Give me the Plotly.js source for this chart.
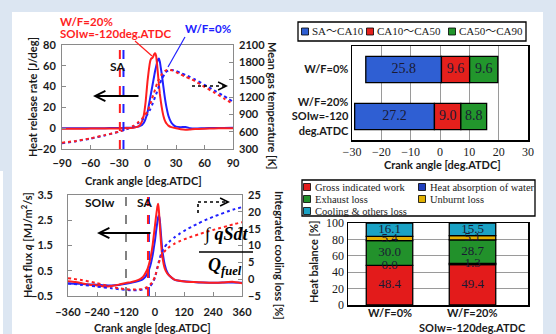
<!DOCTYPE html>
<html><head><meta charset="utf-8">
<script src="https://cdn.plot.ly/plotly-3.0.1.min.js"></script>
<style>html,body{margin:0;padding:0;background:#dce6f2;overflow:hidden}</style>
</head><body><div id="chart" style="width:556px;height:334px"></div>
<script>
// ---------- DATA ----------
// Top-left: heat release rate [J/deg] and mean gas temperature [K]
const caHRR = [-90,-80,-70,-60,-50,-40,-30,-25,-20,-15,-10,-8,-6,-4,-2,-1,0,1,2,3,4,5,6,7,8,9,10,11,12,13,14,15,16,17,18,19,20,22,25,28,30,35,40,45,50,60,70,80,90];
const hrrWF20 = [-0.5,-0.5,-0.5,-0.4,-0.4,-0.3,-0.2,0,0.2,0.5,1.5,3,6,12,25,35,45,53,60,65,67,67.5,69,71,72,70,62,52,42,33,26,20,15,11,8,6,4.5,2.5,1,0.3,0,-1,-1.5,-1.2,-0.8,-0.5,-0.3,0,0];
const hrrWF0  = [0,0,0,0,0,0.1,0.2,0.3,0.4,0.7,1.5,2.2,3,5,9,12,15,20,25,30,35,40,45,50,55,59,63,66,67,64,58,52,45,38,31,25,20,12,5.5,2.5,1.5,1,1.2,0,-0.3,0,0.2,0.3,0.5];
const caTemp = [-90,-75,-60,-45,-30,-20,-15,-10,-5,0,3,5,8,10,12,15,18,20,23,26,30,35,40,45,50,60,70,80,90];
const tempWF20 = [410,440,485,540,600,660,700,760,840,950,1080,1180,1330,1430,1510,1590,1645,1665,1670,1660,1630,1590,1550,1515,1475,1375,1280,1180,1080];
const tempWF0  = [400,435,480,535,600,655,690,745,815,900,990,1070,1200,1290,1390,1510,1600,1640,1665,1668,1650,1615,1580,1545,1505,1410,1315,1220,1120];

// Combustion phases [deg]
const cases = ['W/F=0%', 'W/F=20%'];
const caseTicksH = ['W/F=0%', 'W/F=20%<br>SOIw=-120<br>deg.ATDC'];
const caseTicksV = ['W/F=0%', 'W/F=20%<br>SOIw=-120deg.ATDC'];
const saTiming = [-25.3, -29.1];          // spark timing [deg.ATDC]
const phaseNames = ['SA～CA10', 'CA10～CA50', 'CA50～CA90'];
const saToCa10 = [25.8, 27.2];
const ca10ToCa50 = [9.6, 9.0];
const ca50ToCa90 = [9.6, 8.8];

// Bottom-left: heat flux and integrated cooling loss
const soiw = -120;
const caQ = [-360,-330,-300,-270,-240,-210,-180,-150,-120,-100,-80,-60,-50,-40,-30,-20,-10,-5,0,5,10,13,16,20,25,30,40,50,60,80,100,130,160,200,240,280,320,360];
const qWF20 = [0.08,0.05,0.0,-0.05,-0.08,-0.12,-0.1,-0.05,0.02,0.05,0.1,0.18,0.25,0.4,0.6,0.95,1.5,1.9,2.3,2.7,3.05,3.15,2.9,2.3,1.6,1.1,0.6,0.4,0.3,0.15,0.1,0.06,0.05,0.03,0.02,0.03,0.06,0.0];
const qWF0  = [0.0,-0.01,-0.02,-0.04,-0.05,-0.07,-0.08,-0.06,-0.02,0.02,0.06,0.12,0.17,0.26,0.42,0.68,1.1,1.4,1.7,2.1,2.45,2.62,2.7,2.5,1.9,1.35,0.75,0.45,0.3,0.15,0.1,0.07,0.05,0.03,0.02,0.03,0.03,0.02];
const caCool = [-360,-300,-240,-180,-150,-120,-90,-60,-40,-20,-10,0,5,10,15,20,25,30,40,50,60,80,100,120,150,180,210,240,270,300,330,360];
const coolWF20 = [0.3,-0.3,-1.2,-2.2,-2.7,-3.0,-3.1,-3.0,-2.6,-1.6,-0.8,0.8,2.0,3.3,4.6,5.7,6.6,7.3,8.3,9.0,9.6,10.5,11.2,11.8,12.6,13.3,14.0,14.6,15.2,15.8,16.4,16.9];
const coolWF0  = [-1.3,-1.7,-2.2,-2.7,-3.0,-3.2,-3.3,-3.2,-2.9,-2.1,-1.2,0.5,1.9,3.5,5.0,6.3,7.4,8.3,9.6,10.5,11.2,12.4,13.4,14.3,15.5,16.6,17.6,18.5,19.3,20.1,20.8,21.4];

// Bottom-right: heat balance [%]
const hbNames = ['Gross indicated work','Heat absorption of water','Exhaust loss','Unburnt loss','Cooling &amp; others loss'];
const grossWork = [48.4, 49.4];
const waterAbs  = [0.0, 1.3];
const exhaust   = [30.0, 28.7];
const unburnt   = [5.4, 5.1];
const cooling   = [16.1, 15.5];

// ---------- STYLE ----------
const W = 556, H = 334;
const px = v => v / W, py = v => 1 - v / H;
const RED = '#ff1f1f', BLUE = '#2020ff';
const SANS = 'Lato, "Open Sans", sans-serif';
const SERIF = '"Liberation Serif", "Noto Sans CJK JP", serif';
const phaseColors = ['#2f5fd3', '#e4201c', '#22962c'];
const hbColors = ['#e31b1b', '#1f3fbf', '#22912b', '#e2b100', '#1aa2c4'];
const labelInk = '#1a1a33';

const traces = [];
const lineT = (x, y, xa, ya, color, dash) => ({
  type: 'scatter', mode: 'lines', x, y, xaxis: xa, yaxis: ya, hoverinfo: 'skip',
  line: {color, width: 2, dash: dash || 'solid', shape: 'spline', smoothing: 0.5}
});
// top-left
traces.push(lineT(caTemp, tempWF0, 'x', 'y2', BLUE, 'dot'));
traces.push(lineT(caTemp, tempWF20, 'x', 'y2', RED, 'dot'));
traces.push(lineT(caHRR, hrrWF0, 'x', 'y', BLUE));
traces.push(lineT(caHRR, hrrWF20, 'x', 'y', RED));
// bottom-left
traces.push(lineT(caCool, coolWF0, 'x3', 'y5', BLUE, 'dot'));
traces.push(lineT(caCool, coolWF20, 'x3', 'y5', RED, 'dot'));
traces.push(lineT(caQ, qWF0, 'x3', 'y4', BLUE));
traces.push(lineT(caQ, qWF20, 'x3', 'y4', RED));

// top-right: combustion phases (floating stacked bars)
const phases = [saToCa10, ca10ToCa50, ca50ToCa90];
let base = saTiming.slice();
phases.forEach((vals, k) => {
  traces.push({type: 'bar', orientation: 'h', y: cases, x: vals, base: base.slice(),
    xaxis: 'x2', yaxis: 'y3', width: 0.56, hoverinfo: 'skip',
    marker: {color: phaseColors[k], line: {color: '#000', width: 1.3}}});
  traces.push({type: 'scatter', mode: 'text', y: cases, x: vals.map((v, i) => base[i] + v / 2),
    text: vals.map(v => v.toFixed(1)), xaxis: 'x2', yaxis: 'y3', cliponaxis: false, hoverinfo: 'skip',
    textfont: {family: SERIF, size: 14, color: labelInk}});
  base = base.map((b, i) => b + vals[i]);
});

// bottom-right: heat balance stacked bars
const hb = [grossWork, waterAbs, exhaust, unburnt, cooling];
let hbBase = cases.map(() => 0);
hb.forEach((vals, k) => {
  traces.push({type: 'bar', x: cases, y: vals, base: hbBase.slice(), xaxis: 'x4', yaxis: 'y6',
    width: 0.56, hoverinfo: 'skip', marker: {color: hbColors[k], line: {color: '#000', width: 1.3}}});
  traces.push({type: 'scatter', mode: 'text', x: cases, y: vals.map((v, i) => hbBase[i] + v / 2),
    text: vals.map(v => v.toFixed(1)), xaxis: 'x4', yaxis: 'y6', cliponaxis: false, hoverinfo: 'skip',
    textfont: {family: SERIF, size: 13, color: labelInk}});
  hbBase = hbBase.map((b, i) => b + vals[i]);
});

// ---------- LAYOUT ----------
const boldTick = {family: SANS, size: 11, color: '#1a1a1a', weight: 'bold'};
const serifTick = {family: SERIF, size: 12, color: '#1a1a1a'};
const leftAxis = {showgrid: false, zeroline: false, showline: true, mirror: true, linecolor: '#8a8a8a',
  linewidth: 1, ticks: 'inside', ticklen: 4, tickcolor: '#8a8a8a', tickfont: boldTick};
const rightAxis = {showgrid: false, zeroline: false, showline: false, ticks: 'inside', ticklen: 4,
  tickcolor: '#8a8a8a', tickfont: boldTick, side: 'right', ticklabelstandoff: 5};

const shapes = [];
const annotations = [];
const ann = (text, x, y, o) => annotations.push(Object.assign({text, xref: 'paper', yref: 'paper',
  x: px(x), y: py(y), showarrow: false, xanchor: 'center', yanchor: 'middle',
  font: {family: SANS, size: 11, color: '#1a1a1a', weight: 'bold'}}, o || {}));
const pline = (x0, y0, x1, y1, color, width, dash) => shapes.push({type: 'line', xref: 'paper', yref: 'paper',
  x0: px(x0), y0: py(y0), x1: px(x1), y1: py(y1), line: {color, width, dash: dash || 'solid'}});
const arrowHead = (x, y, dx, dy, w) => annotations.push({text: '', xref: 'paper', yref: 'paper', x: px(x), y: py(y),
  ax: dx, ay: dy, showarrow: true, arrowhead: 5, arrowsize: 1, arrowwidth: w || 1.6, arrowcolor: '#000'});

// panel background
shapes.push({type: 'rect', xref: 'paper', yref: 'paper', x0: px(12), x1: px(543), y0: py(334), y1: py(12),
  fillcolor: '#ffffff', line: {width: 0}, layer: 'below'});
shapes.push({type: 'rect', xref: 'paper', yref: 'paper', x0: px(0), x1: px(3), y0: py(334), y1: py(171),
  fillcolor: '#ffffff', line: {width: 0}, layer: 'below'});

// SA lines
[['x', 'y domain'], ['x3', 'y4 domain']].forEach(([xr, yr]) => {
  saTiming.forEach((s, i) => shapes.push({type: 'line', xref: xr, yref: yr, x0: s, x1: s, y0: 0, y1: 1,
    line: {color: i === 0 ? BLUE : RED, width: 2, dash: 'dash'}}));
});
shapes.push({type: 'line', xref: 'x3', yref: 'y4 domain', x0: soiw, x1: soiw, y0: 0, y1: 1,
  line: {color: '#404040', width: 1.3, dash: 'dash'}});

// top-left texts
ann('W/F=20%', 58, 21, {xanchor: 'left', font: {family: SANS, size: 11.5, color: RED, weight: 'bold'}});
ann('SOIw=-120deg.ATDC', 58, 33, {xanchor: 'left', font: {family: SANS, size: 11.5, color: RED, weight: 'bold'}});
ann('W/F=0%', 183, 29, {xanchor: 'left', font: {family: SANS, size: 11.5, color: BLUE, weight: 'bold'}});
pline(135, 41, 152, 56, RED, 1.2);
pline(185, 37, 168, 67, BLUE, 1.2);
ann('SA', 117, 66, {font: {family: SANS, size: 12, color: '#111', weight: 'bold'}});
arrowHead(93, 96, 47, 0, 2);
pline(192, 86, 224, 86, '#000', 1.6, 'dot');
arrowHead(228, 86, -5, 0, 1.6);
ann('Heat release rate [J/deg]', 32, 97, {textangle: -90});
ann('Mean gas temperature [K]', 273, 105, {textangle: 90});
ann('Crank angle [deg.ATDC]', 143, 180);

// top-right texts
ann('Crank angle [deg.ATDC]', 442, 164);
shapes.push({type: 'rect', xref: 'paper', yref: 'paper', x0: px(298), x1: px(526), y0: py(41), y1: py(22),
  line: {color: '#000', width: 1.3}, fillcolor: 'rgba(0,0,0,0)'});
const legSq = [305, 370, 452];
phaseNames.forEach((n, k) => {
  shapes.push({type: 'rect', xref: 'paper', yref: 'paper', x0: px(legSq[k] - 3.5), x1: px(legSq[k] + 3.5),
    y0: py(35), y1: py(28), fillcolor: phaseColors[k], line: {color: '#000', width: 0.8}});
  ann(n, legSq[k] + 5, 31.5, {xanchor: 'left', font: {family: SERIF, size: 11, color: '#1a1a1a'}});
});

// bottom-left texts
ann('SOIw', 100, 202, {font: {family: SANS, size: 12, color: '#111', weight: 'bold'}});
ann('SA', 144, 202, {font: {family: SANS, size: 12, color: '#111', weight: 'bold'}});
arrowHead(97, 233, 55, 0, 2);
pline(198, 213, 198, 202, '#000', 1.6, 'dot');
pline(198, 202, 226, 202, '#000', 1.6, 'dot');
arrowHead(230, 202, -5, 0, 1.6);
ann('∫ <i>qSdt</i>', 226, 234, {font: {family: SERIF, size: 18, color: '#000', weight: 'bold'}});
pline(199, 252, 253, 252, '#000', 1.5);
ann('<i>Q<sub>fuel</sub></i>', 225, 266, {font: {family: SERIF, size: 18, color: '#000', weight: 'bold'}});
ann('Heat flux <i>q</i> [MJ/m<sup>2</sup>/s]', 27, 245, {textangle: -90});
ann('Integrated cooling loss [%]', 280, 255, {textangle: 90});
ann('Crank angle [deg.ATDC]', 152, 327);

// bottom-right texts
ann('Heat balance [%]', 313, 262, {textangle: -90});
shapes.push({type: 'rect', xref: 'paper', yref: 'paper', x0: px(302), x1: px(535), y0: py(216), y1: py(180),
  line: {color: '#000', width: 1.3}, fillcolor: 'rgba(0,0,0,0)'});
hbNames.forEach((n, k) => {
  const cx = k % 2 === 0 ? 307 : 422, cy = 187 + 12 * Math.floor(k / 2);
  shapes.push({type: 'rect', xref: 'paper', yref: 'paper', x0: px(cx - 3.5), x1: px(cx + 3.5),
    y0: py(cy + 3.5), y1: py(cy - 3.5), fillcolor: hbColors[k], line: {color: '#000', width: 0.8}});
  ann(n, cx + 6, cy, {xanchor: 'left', font: {family: SERIF, size: 10.5, color: '#1a1a1a'}});
});
// category labels under the heat-balance bars
caseTicksV.forEach((t, i) => t.split('<br>').forEach((line, j) => annotations.push({
  text: line, xref: 'x4', yref: 'paper', x: cases[i], y: py(312 + 15 * j), showarrow: false,
  xanchor: 'center', yanchor: 'middle', font: {family: SANS, size: 11, color: '#1a1a1a', weight: 'bold'}})));

const layout = {
  width: W, height: H, margin: {l: 0, r: 0, t: 0, b: 0},
  paper_bgcolor: '#dce6f2', plot_bgcolor: '#ffffff', showlegend: false, barmode: 'overlay',
  xaxis: Object.assign({}, leftAxis, {domain: [px(62), px(233)], range: [-90, 90], anchor: 'y',
    tickvals: [-90, -60, -30, 0, 30, 60, 90], ticklabelstandoff: 4}),
  yaxis: Object.assign({}, leftAxis, {domain: [py(149), py(45)], range: [-20, 80], anchor: 'x', dtick: 20,
    ticklabelstandoff: 3}),
  yaxis2: Object.assign({}, rightAxis, {overlaying: 'y', anchor: 'x', range: [300, 2100], dtick: 300}),
  xaxis2: {domain: [px(352), px(528)], range: [-30, 30], dtick: 10, anchor: 'y3', showgrid: true,
    gridcolor: '#9a9a9a', gridwidth: 1, zeroline: false, showline: true, mirror: true, linecolor: '#000',
    linewidth: 1.5, ticks: '', tickfont: serifTick},
  yaxis3: {domain: [py(140), py(46)], anchor: 'x2', type: 'category', categoryorder: 'array',
    categoryarray: cases, autorange: 'reversed', tickvals: cases, ticktext: caseTicksH,
    showline: true, mirror: true, linecolor: '#000', linewidth: 1.5, ticks: '', showgrid: false,
    zeroline: false, tickfont: boldTick},
  xaxis3: Object.assign({}, leftAxis, {domain: [px(68), px(242)], range: [-360, 360], anchor: 'y4',
    tickvals: [-360, -240, -120, 0, 120, 240, 360], ticklabelstandoff: 6}),
  yaxis4: Object.assign({}, leftAxis, {domain: [py(296), py(195)], range: [-0.5, 3.5], anchor: 'x3',
    tickvals: [-0.5, 0.5, 1.5, 2.5, 3.5], ticklabelstandoff: 12}),
  yaxis5: Object.assign({}, rightAxis, {overlaying: 'y4', anchor: 'x3', range: [-5, 25], dtick: 5}),
  xaxis4: {domain: [px(348), px(528)], anchor: 'y6', type: 'category', categoryorder: 'array',
    categoryarray: cases, showticklabels: false, showline: true, mirror: true,
    linecolor: '#000', linewidth: 1.5, ticks: '', showgrid: false, zeroline: false},
  yaxis6: {domain: [py(305), py(223)], range: [0, 100], dtick: 20, anchor: 'x4', showgrid: true,
    gridcolor: '#9a9a9a', zeroline: false, showline: true, mirror: true, linecolor: '#000', linewidth: 1.5,
    ticks: '', tickfont: serifTick},
  shapes, annotations
};

Plotly.newPlot('chart', traces, layout, {staticPlot: true, displayModeBar: false});
</script></body></html>
